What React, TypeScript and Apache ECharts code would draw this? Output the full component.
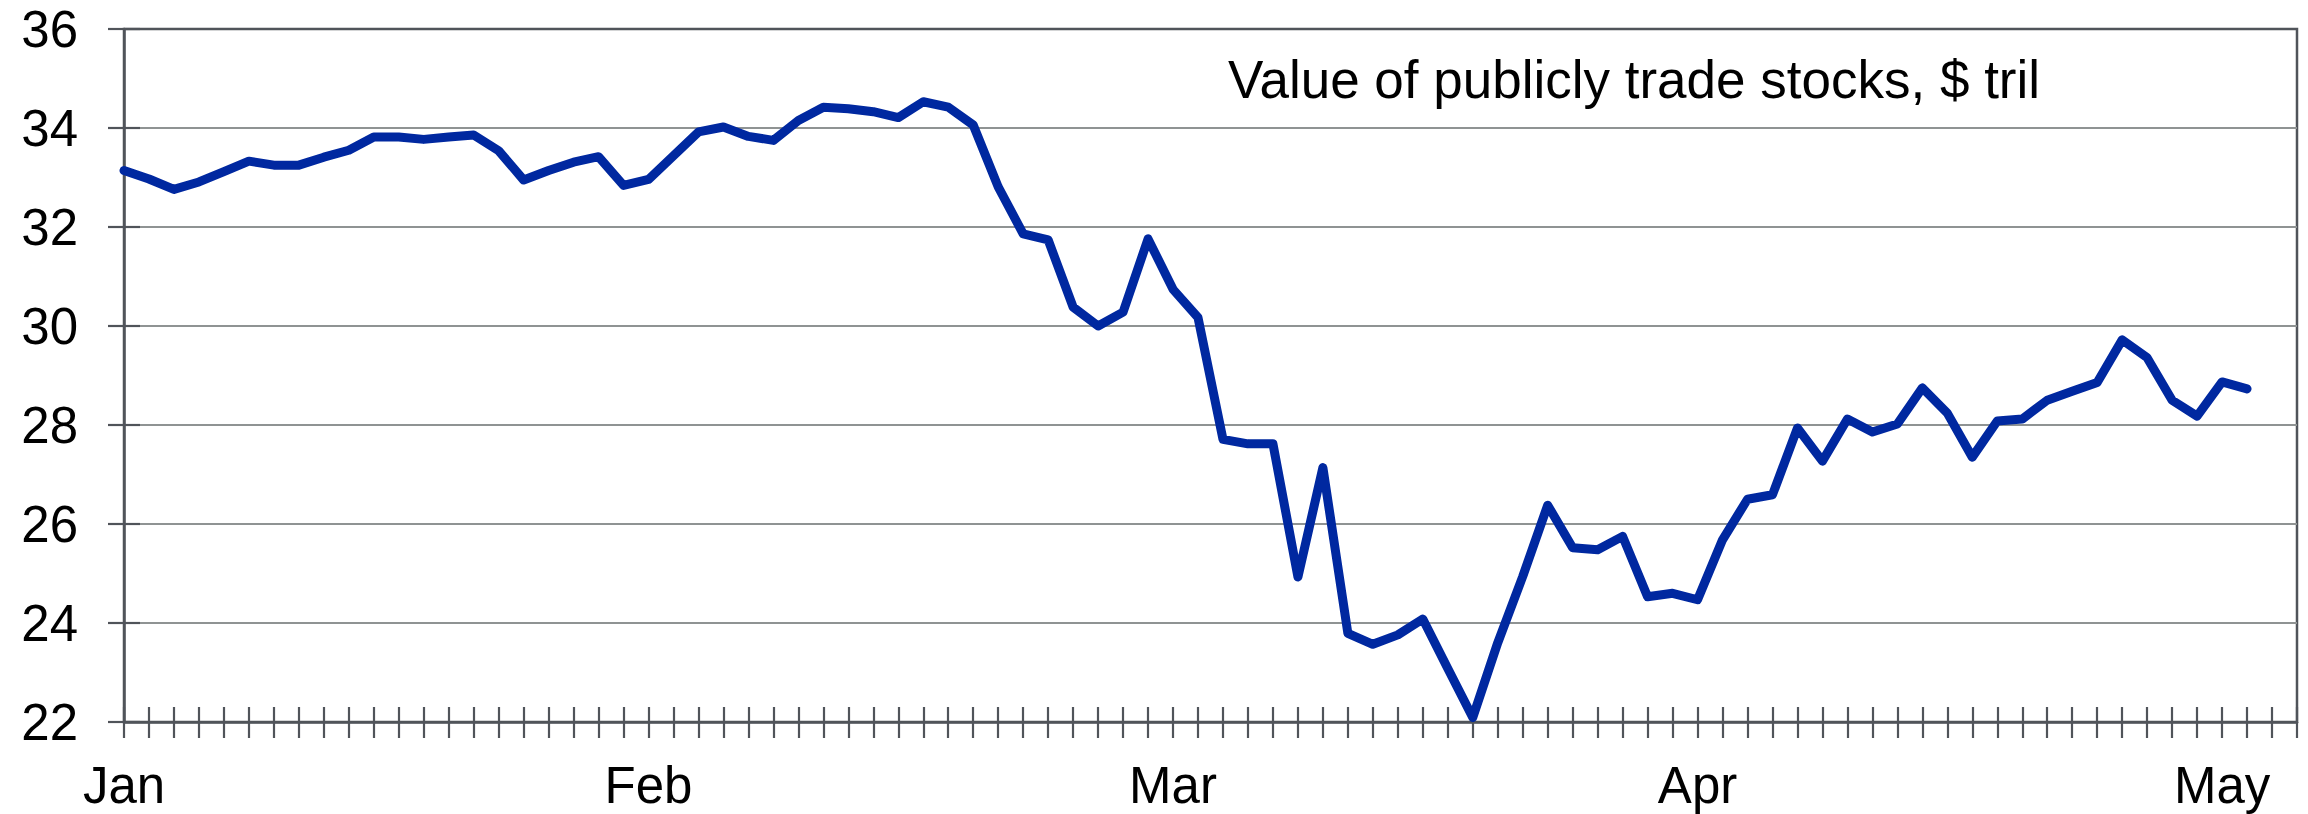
import React, { useEffect, useRef } from "react";
import * as echarts from "echarts";

// 88 business-day slots on the category axis (data fills the first 86)
const slotCount = 88;
const categories: string[] = Array.from({ length: slotCount }, (_, i) => String(i));

// month tick labels and the slot where each month begins
const monthLabels = ["Jan", "Feb", "Mar", "Apr", "May"];
const monthSlots = [0, 21, 42, 63, 84];

// Value of publicly traded stocks, $ trillion
const stockValues = [
  33.14, 32.97, 32.76, 32.91, 33.12, 33.33, 33.25, 33.25, 33.41, 33.55,
  33.82, 33.82, 33.77, 33.82, 33.86, 33.54, 32.95, 33.14, 33.31, 33.42,
  32.84, 32.96, 33.44, 33.92, 34.02, 33.83, 33.75, 34.15, 34.42, 34.39,
  34.33, 34.21, 34.53, 34.42, 34.06, 32.81, 31.86, 31.74, 30.38, 30.0,
  30.28, 31.76, 30.74, 30.17, 27.71, 27.62, 27.62, 24.93, 27.14, 23.79,
  23.57, 23.76, 24.08, 23.08, 22.09, 23.6, 24.94, 26.38, 25.52, 25.48,
  25.75, 24.53, 24.6, 24.47, 25.68, 26.5, 26.59, 27.94, 27.27, 28.12,
  27.86, 28.02, 28.75, 28.24, 27.35, 28.08, 28.12, 28.5, 28.68, 28.86,
  29.72, 29.36, 28.5, 28.18, 28.87, 28.73,
];

const yMin = 22;
const yMax = 36;
const yStep = 2;
const titleText = "Value of publicly trade stocks, $ tril";

export default function App() {
  const ref = useRef<HTMLDivElement>(null);

  useEffect(() => {
    if (!ref.current) return;
    const chart = echarts.init(ref.current, undefined, { renderer: "svg" });
    const axisColor = "#50545a";
    const font = "'Liberation Sans', Arial, sans-serif";
    chart.setOption({
      animation: false,
      backgroundColor: "#ffffff",
      grid: {
        left: 124,
        right: 11,
        top: 29,
        bottom: 92,
        show: true,
        borderColor: axisColor,
        borderWidth: 2.5,
        backgroundColor: "transparent",
      },
      graphic: [
        {
          type: "text",
          x: 1228,
          y: 79,
          z: 10,
          style: {
            text: titleText,
            font: `53px ${font}`,
            fill: "#000000",
            verticalAlign: "middle",
            align: "left",
          },
        },
      ],
      xAxis: [
        {
          type: "category",
          data: categories,
          boundaryGap: false,
          axisLine: { show: true, lineStyle: { color: axisColor, width: 2.5 } },
          axisTick: {
            show: true,
            interval: 0,
            length: 16,
            inside: false,
            lineStyle: { color: axisColor, width: 2.2 },
          },
          axisLabel: {
            interval: (index: number) => monthSlots.includes(index),
            formatter: (_v: string, index: number) => {
              const k = monthSlots.indexOf(index);
              return k >= 0 ? monthLabels[k] : "";
            },
            fontSize: 51,
            fontFamily: font,
            color: "#000000",
            margin: 38,
          },
          splitLine: { show: false },
        },
        {
          type: "category",
          data: categories,
          boundaryGap: false,
          position: "bottom",
          axisLine: { show: false },
          axisTick: {
            show: true,
            interval: 0,
            length: 15,
            inside: true,
            lineStyle: { color: axisColor, width: 2.2 },
          },
          axisLabel: { show: false },
          splitLine: { show: false },
        },
      ],
      yAxis: [
        {
          type: "value",
          min: yMin,
          max: yMax,
          interval: yStep,
          axisLine: { show: true, lineStyle: { color: axisColor, width: 2.5 } },
          axisTick: {
            show: true,
            length: 16,
            inside: false,
            lineStyle: { color: axisColor, width: 2.2 },
          },
          axisLabel: {
            fontSize: 51,
            fontFamily: font,
            color: "#000000",
            margin: 46,
          },
          splitLine: {
            show: true,
            showMinLine: false,
            showMaxLine: false,
            lineStyle: { color: "#8f9393", width: 2.2 },
          },
        },
        {
          type: "value",
          min: yMin,
          max: yMax,
          interval: yStep,
          position: "left",
          axisLine: { show: false },
          axisTick: {
            show: true,
            length: 16,
            inside: true,
            lineStyle: { color: axisColor, width: 2.2 },
          },
          axisLabel: { show: false },
          splitLine: { show: false },
        },
      ],
      series: [
        {
          type: "line",
          data: stockValues,
          xAxisIndex: 0,
          yAxisIndex: 0,
          symbol: "none",
          lineStyle: { color: "#0028a0", width: 9, cap: "round", join: "round" },
          z: 5,
        },
      ],
    });
    return () => chart.dispose();
  }, []);

  return (
    <div
      ref={ref}
      style={{ position: "fixed", left: 0, top: 0, width: 2308, height: 814 }}
    />
  );
}
